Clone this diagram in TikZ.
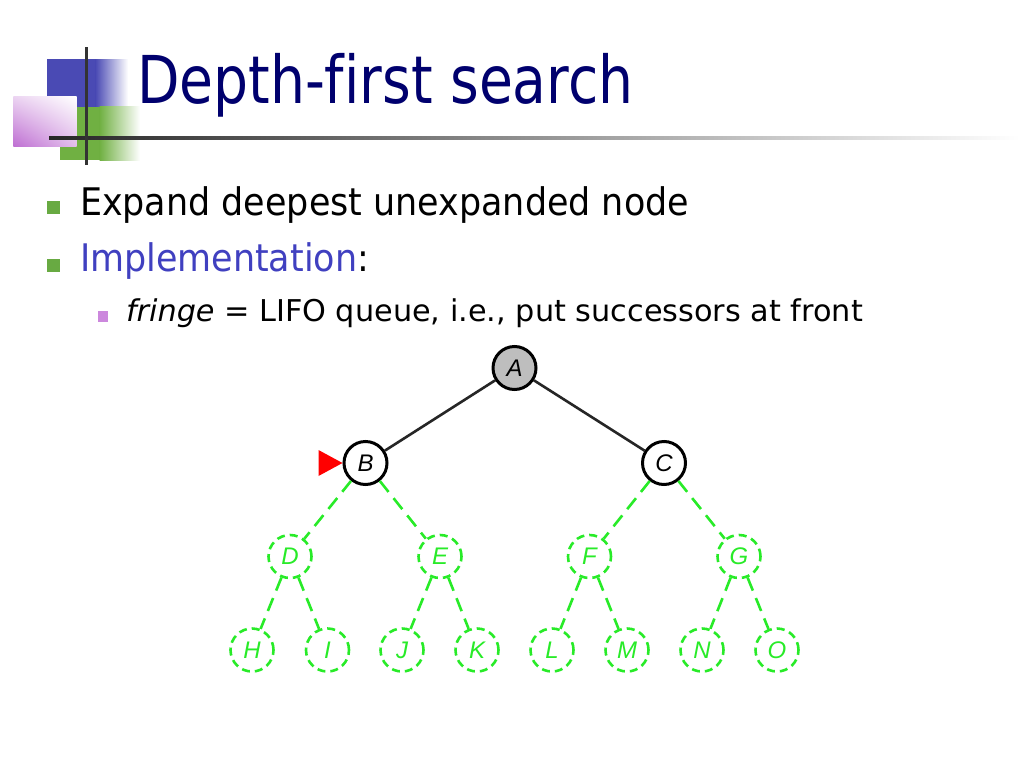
\documentclass[tikz,border=0pt]{standalone}
\usepackage{fontspec}
\usepackage{graphicx}
\setmainfont[Ligatures=NoCommon]{DejaVu Sans}
\newfontfamily\labfont{Liberation Sans}
\usetikzlibrary{calc,shadings}
\definecolor{titleblue}{RGB}{0,0,110}
\definecolor{implblue}{RGB}{64,64,192}
\definecolor{bulgreen}{RGB}{104,170,66}
\definecolor{bulpink}{RGB}{204,136,221}
\definecolor{decoblue}{RGB}{74,74,180}
\definecolor{decogreen}{RGB}{112,176,66}
\definecolor{decopink}{RGB}{190,110,210}
\definecolor{treegreen}{RGB}{40,235,40}
\definecolor{nodegray}{RGB}{190,190,190}
\newcommand\hsq[2]{\scalebox{#1}[1]{#2}}
\tikzset{
  txt/.style={anchor=base west, inner sep=0pt, outer sep=0pt},
  blknode/.style={circle, draw=black, line width=3pt, minimum size=43pt, inner sep=0pt, font=\labfont\itshape\fontsize{24}{24}\selectfont},
  grnnode/.style={circle, draw=treegreen, line width=2.6pt, dash pattern=on 8pt off 5pt, minimum size=43pt, inner sep=0pt, text=treegreen, font=\labfont\itshape\fontsize{24}{24}\selectfont},
  blkedge/.style={draw=black!85, line width=2.6pt},
  grnedge/.style={draw=treegreen, line width=2.6pt, dash pattern=on 14pt off 8pt},
  bullet1/.style={fill=bulgreen},
  bullet2/.style={fill=bulpink}
}
\begin{document}
\begin{tikzpicture}[x=1pt,y=-1pt]
\useasboundingbox (0,0) rectangle (1024,768);
\fill[white] (0,0) rectangle (1024,768);
% decoration
\fill[decoblue] (46.7,59.3) rectangle (96,106.7);
\shade[left color=decoblue, right color=white] (95.5,59.3) rectangle (128,106.7);
\fill[decogreen] (60,106.7) rectangle (100,160);
\shade[left color=decogreen, right color=white] (99.5,106.7) rectangle (140,160);
\shade[lower left=decopink, upper left=decopink!30, lower right=decopink!45, upper right=white] (13.3,96.7) rectangle (76.7,146.7);
\shade[left color=black!85, right color=white] (49,136.2) rectangle (1020,139.2);
\fill[black!80] (85.2,46.7) rectangle (88.2,165);
% title
\node[txt, text=titleblue] (title) at (137,103) {\fontsize{66}{70}\selectfont\hsq{0.836}{Depth-first search}};
% bullets
\fill[bullet1] (46.5,200.7) rectangle (59.5,213.5);
\node[txt] (l1) at (80,215.5) {\fontsize{38}{40}\selectfont\hsq{0.919}{Expand deepest unexpanded node}};
\fill[bullet1] (46.5,258.5) rectangle (59.5,271.5);
\node[txt] (l2) at (80,271.5) {\fontsize{38}{40}\selectfont\hsq{0.919}{\textcolor{implblue}{Implementation}:}};
\fill[bullet2] (97.5,311) rectangle (108,321.7);
\node[txt] (l3) at (126,321.5) {\fontsize{30}{32}\selectfont\hsq{1.01}{\textit{fringe} = LIFO queue, i.e., put successors at front}};
% tree
\node[blknode, fill=nodegray] (A) at (514.5,368) {A};
\node[blknode] (B) at (365.5,463) {B};
\node[blknode] (C) at (664,463) {C};
\node[grnnode] (D) at (290,556.5) {D};
\node[grnnode] (E) at (440,556.5) {E};
\node[grnnode] (F) at (589.5,556.5) {F};
\node[grnnode] (G) at (739,556.5) {G};
\node[grnnode] (H) at (252,650) {H};
\node[grnnode] (I) at (327.5,650) {I};
\node[grnnode] (J) at (402,650) {J};
\node[grnnode] (K) at (477,650) {K};
\node[grnnode] (L) at (552,650) {L};
\node[grnnode] (M) at (627,650) {M};
\node[grnnode] (N) at (702,650) {N};
\node[grnnode] (O) at (777,650) {O};
\draw[blkedge] (A) -- (B);
\draw[blkedge] (A) -- (C);
\draw[grnedge] (B) -- (D);
\draw[grnedge] (B) -- (E);
\draw[grnedge] (C) -- (F);
\draw[grnedge] (C) -- (G);
\draw[grnedge] (D) -- (H);
\draw[grnedge] (D) -- (I);
\draw[grnedge] (E) -- (J);
\draw[grnedge] (E) -- (K);
\draw[grnedge] (F) -- (L);
\draw[grnedge] (F) -- (M);
\draw[grnedge] (G) -- (N);
\draw[grnedge] (G) -- (O);
\fill[red] ($(B.west)+(-24,-13)$) -- ($(B.west)+(-24,13)$) -- (B.west) -- cycle;
\end{tikzpicture}
\end{document}
